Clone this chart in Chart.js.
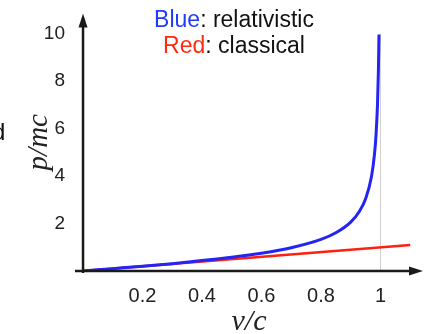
<!DOCTYPE html>
<html>
<head>
<meta charset="utf-8">
<script src="https://cdn.jsdelivr.net/npm/chart.js@4/dist/chart.umd.min.js"></script>
<style>
  html, body { margin: 0; padding: 0; background: #fff; }
  #wrap { position: relative; width: 424px; height: 334px; overflow: hidden; }
  canvas { position: absolute; left: 0; top: 0; }
  .leg { position: absolute; font-family: "Liberation Sans", Arial, sans-serif; font-size: 23px; color: #111; white-space: nowrap; text-align: center; width: 240px; left: 114px; line-height: 26px; }
  .stray { position: absolute; left: -8px; top: 117px; font-family: "Liberation Sans", Arial, sans-serif; font-size: 24px; line-height: 30px; color: #111; }
</style>
</head>
<body>
<div id="wrap">
  <canvas id="c" width="424" height="334"></canvas>
  <div class="leg" style="top:6px"><span style="color:#1f3cff">Blue</span>: relativistic</div>
  <div class="leg" style="top:32px"><span style="color:#ff2a10">Red</span>: classical</div>
  <div class="stray">d</div>
</div>
<script>
// speed ratio v/c
const velocity = [0, 0.1, 0.2, 0.3, 0.4, 0.5, 0.6, 0.7, 0.8, 0.85, 0.9, 0.93, 0.95, 0.97, 0.98, 0.985, 0.99, 0.993, 0.995];
// relativistic momentum p/mc (blue)
const relativistic = [0, 0.10, 0.20, 0.31, 0.44, 0.58, 0.75, 0.98, 1.33, 1.61, 2.06, 2.53, 3.04, 3.99, 4.93, 5.71, 7.02, 8.41, 9.96];
// classical momentum p/mc (red)
const classicalV = [0, 1.1];
const classical = [0, 1.1];
// reference line at v = c
const refV = [1, 1];
const refP = [0, 10];
// tick labels
const xTicks = [0.2, 0.4, 0.6, 0.8, 1];
const xTickLabels = ["0.2", "0.4", "0.6", "0.8", "1"];
const yTicks = [2, 4, 6, 8, 10];
const yTickLabels = ["2", "4", "6", "8", "10"];

const pts = (xs, ys) => xs.map((x, i) => ({x: x, y: ys[i]}));

const axesPlugin = {
  id: 'arrowAxes',
  afterDatasetsDraw(chart) {
    const ctx = chart.ctx;
    const xs = chart.scales.x, ys = chart.scales.y;
    const x0 = xs.getPixelForValue(0);
    const y0 = ys.getPixelForValue(0);
    const xEnd = xs.right, yEnd = ys.top;
    ctx.save();
    ctx.strokeStyle = '#1a1a1a';
    ctx.fillStyle = '#1a1a1a';
    ctx.lineWidth = 2.5;
    // x axis
    ctx.beginPath();
    ctx.moveTo(xs.left, y0);
    ctx.lineTo(xEnd - 10, y0);
    ctx.stroke();
    ctx.beginPath();
    ctx.moveTo(xEnd, y0);
    ctx.lineTo(xEnd - 14, y0 - 4.5);
    ctx.lineTo(xEnd - 14, y0 + 4.5);
    ctx.closePath();
    ctx.fill();
    // y axis
    ctx.beginPath();
    ctx.moveTo(x0, y0 + 2);
    ctx.lineTo(x0, yEnd + 10);
    ctx.stroke();
    ctx.beginPath();
    ctx.moveTo(x0, yEnd);
    ctx.lineTo(x0 - 4.5, yEnd + 14);
    ctx.lineTo(x0 + 4.5, yEnd + 14);
    ctx.closePath();
    ctx.fill();
    ctx.restore();
  }
};

new Chart(document.getElementById('c'), {
  type: 'scatter',
  data: {
    datasets: [
      { data: pts(refV, refP), showLine: true, borderColor: '#cfcfcf', borderWidth: 1, pointRadius: 0, order: 3 },
      { data: pts(classicalV, classical), showLine: true, borderColor: '#ff2010', borderWidth: 2.5, pointRadius: 0, order: 2 },
      { data: pts(velocity, relativistic), showLine: true, borderColor: '#2424f4', borderWidth: 3, pointRadius: 0, cubicInterpolationMode: 'monotone', order: 1 }
    ]
  },
  options: {
    responsive: false,
    animation: false,
    events: [],
    layout: { padding: { top: 10, right: 1, left: 0, bottom: 0 } },
    plugins: { legend: { display: false }, tooltip: { enabled: false }, title: { display: false } },
    scales: {
      x: {
        type: 'linear',
        min: -0.027,
        max: 1.143,
        grid: { display: false },
        border: { display: false },
        afterBuildTicks: s => { s.ticks = xTicks.map(v => ({value: v})); },
        afterFit: s => { s.height = 63; },
        ticks: {
          padding: 5,
          color: '#222',
          font: { family: 'Liberation Sans', size: 20 },
          callback: (v) => xTickLabels[xTicks.indexOf(v)]
        },
        title: {
          display: true,
          text: 'v/c',
          color: '#222',
          font: { family: 'Liberation Serif', style: 'italic', size: 30, lineHeight: 0.8 },
          padding: { top: 0, bottom: 0 }
        }
      },
      y: {
        type: 'linear',
        min: 0,
        max: 10.85,
        grid: { display: false },
        border: { display: false },
        afterBuildTicks: s => { s.ticks = yTicks.map(v => ({value: v})); },
        afterFit: s => { s.width = 75; },
        ticks: {
          padding: 2,
          color: '#222',
          font: { family: 'Liberation Sans', size: 19 },
          callback: (v) => yTickLabels[yTicks.indexOf(v)]
        },
        title: {
          display: true,
          text: 'p/mc',
          color: '#222',
          font: { family: 'Liberation Serif', style: 'italic', size: 29, lineHeight: 0.8 },
          padding: { top: 28, bottom: 0 }
        }
      }
    }
  },
  plugins: [axesPlugin]
});
</script>
</body>
</html>
